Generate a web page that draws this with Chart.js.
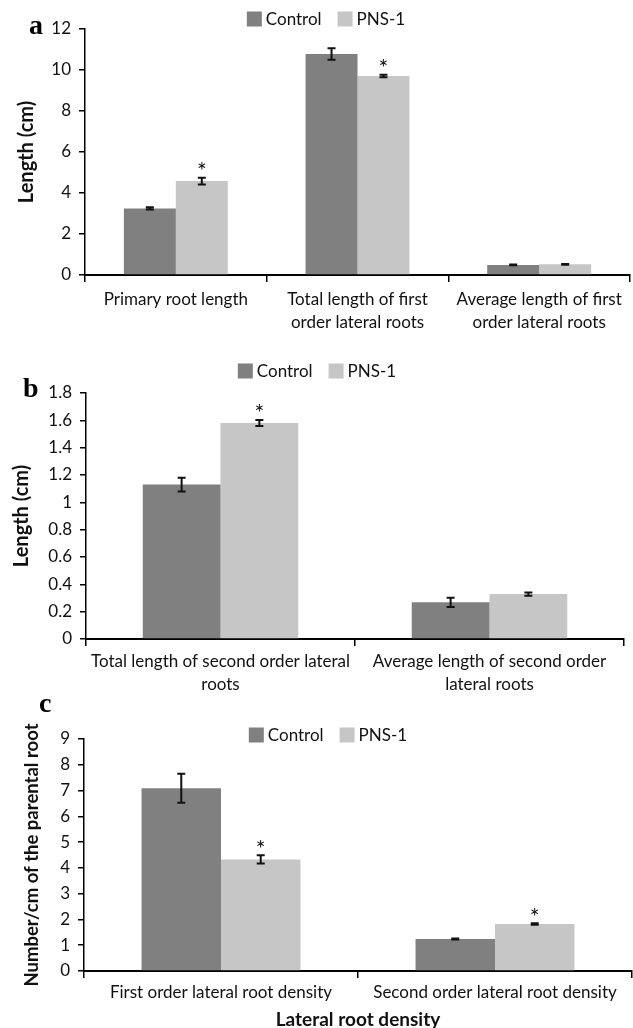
<!DOCTYPE html>
<html>
<head>
<meta charset="utf-8">
<script src="https://cdn.jsdelivr.net/npm/chart.js@4.4.1/dist/chart.umd.min.js"></script>
<style>
  body { margin: 0; background: #fff; width: 633px; height: 1028px; position: relative; overflow: hidden; }
  canvas { position: absolute; left: 0; }
</style>
</head>
<body>
<canvas id="chartA" width="633" height="340" style="top:0px"></canvas>
<canvas id="chartB" width="633" height="360" style="top:340px"></canvas>
<canvas id="chartC" width="633" height="338" style="top:690px"></canvas>
<script>
// shared series
const seriesNames = ['Control', 'PNS-1'];
const seriesColors = ['#808080', '#c5c6c5'];

// panel a
const catsA = ['Primary root length', ['Total length of first', 'order lateral roots'], ['Average length of first', 'order lateral roots']];
const controlA = [3.25, 10.78, 0.49];
const controlErrA = [0.06, 0.28, 0.02];
const pnsA = [4.58, 9.71, 0.52];
const pnsErrA = [0.17, 0.06, 0.02];
const starsA = [true, true, false];
const ticksA = [0, 2, 4, 6, 8, 10, 12];
const tickLabelsA = ['0', '2', '4', '6', '8', '10', '12'];

// panel b
const catsB = [['Total length of second order lateral', 'roots'], ['Average length of second order', 'lateral roots']];
const controlB = [1.13, 0.268];
const controlErrB = [0.05, 0.033];
const pnsB = [1.58, 0.329];
const pnsErrB = [0.022, 0.012];
const starsB = [true, false];
const ticksB = [0, 0.2, 0.4, 0.6, 0.8, 1, 1.2, 1.4, 1.6, 1.8];
const tickLabelsB = ['0', '0.2', '0.4', '0.6', '0.8', '1', '1.2', '1.4', '1.6', '1.8'];

// panel c
const catsC = ['First order lateral root density', 'Second order lateral root density'];
const controlC = [7.09, 1.24];
const controlErrC = [0.56, 0.02];
const pnsC = [4.33, 1.82];
const pnsErrC = [0.16, 0.03];
const starsC = [true, true];
const ticksC = [0, 1, 2, 3, 4, 5, 6, 7, 8, 9];
const tickLabelsC = ['0', '1', '2', '3', '4', '5', '6', '7', '8', '9'];

const FONT = 'Lato';
const INK = '#111';

// error bars, asterisks, legend and panel letter
const extras = {
  id: 'extras',
  afterDatasetsDraw(chart, args, opts) {
    const ctx = chart.ctx;
    const ys = chart.scales.y;
    ctx.save();
    chart.data.datasets.forEach((ds, i) => {
      const meta = chart.getDatasetMeta(i);
      meta.data.forEach((bar, j) => {
        const v = ds.data[j], e = ds.errors[j];
        const x = bar.x;
        const hi = ys.getPixelForValue(v + e);
        const lo = ys.getPixelForValue(v - e);
        ctx.strokeStyle = INK;
        ctx.lineWidth = 2;
        ctx.beginPath();
        ctx.moveTo(x, hi); ctx.lineTo(x, lo);
        ctx.moveTo(x - 4, hi); ctx.lineTo(x + 4, hi);
        ctx.moveTo(x - 4, lo); ctx.lineTo(x + 4, lo);
        ctx.stroke();
        if (ds.stars && ds.stars[j]) {
          ctx.fillStyle = INK;
          ctx.font = '23px ' + FONT;
          ctx.textAlign = 'center';
          ctx.textBaseline = 'middle';
          ctx.fillText('*', x, hi - 6);
        }
      });
    });

    // legend
    ctx.font = '17px ' + FONT;
    ctx.textBaseline = 'middle';
    ctx.textAlign = 'left';
    const box = 15, gapText = 4, gapItem = 16;
    const widths = chart.data.datasets.map(ds => ctx.measureText(ds.label).width);
    let total = 0;
    widths.forEach((w, i) => { total += box + gapText + w + (i ? gapItem : 0); });
    let lx = opts.legendX - total / 2;
    chart.data.datasets.forEach((ds, i) => {
      ctx.fillStyle = ds.backgroundColor;
      ctx.fillRect(lx, opts.legendY - box / 2, box, box);
      ctx.fillStyle = INK;
      ctx.fillText(ds.label, lx + box + gapText, opts.legendY + 1);
      lx += box + gapText + widths[i] + gapItem;
    });

    // panel letter
    ctx.font = 'bold 28px "Liberation Serif"';
    ctx.textBaseline = 'alphabetic';
    ctx.fillStyle = '#000';
    ctx.fillText(opts.letter, opts.letterX, opts.letterY);
    ctx.restore();
  }
};

function makePanel(id, cfg) {
  return new Chart(document.getElementById(id), {
    type: 'bar',
    data: {
      labels: cfg.labels,
      datasets: [
        { label: seriesNames[0], data: cfg.control, errors: cfg.controlErr, stars: null,
          backgroundColor: seriesColors[0], categoryPercentage: cfg.catPct, barPercentage: 1 },
        { label: seriesNames[1], data: cfg.pns, errors: cfg.pnsErr, stars: cfg.stars,
          backgroundColor: seriesColors[1], categoryPercentage: cfg.catPct, barPercentage: 1 }
      ]
    },
    options: {
      responsive: false,
      animation: false,
      layout: { padding: { top: cfg.top, right: cfg.right, bottom: 0, left: 0 } },
      plugins: {
        legend: { display: false },
        tooltip: { enabled: false },
        extras: { legendX: cfg.legendX, legendY: cfg.legendY, letter: cfg.letter, letterX: cfg.letterX, letterY: cfg.letterY }
      },
      scales: {
        x: {
          grid: { offset: true, drawOnChartArea: false, tickLength: 7, color: '#000', lineWidth: 1.5 },
          border: { color: '#000', width: 2 },
          ticks: { color: INK, font: { family: FONT, size: 17, lineHeight: 1.35 }, padding: cfg.xPad, maxRotation: 0, autoSkip: false },
          title: cfg.xTitle
            ? { display: true, text: cfg.xTitle, color: INK, font: { family: FONT, size: 19, weight: 'bold', lineHeight: 0.85 }, padding: { top: 0, bottom: 0 } }
            : { display: false },
          afterFit: s => { s.height = cfg.xh; }
        },
        y: {
          min: 0,
          max: cfg.ticks[cfg.ticks.length - 1],
          afterBuildTicks: s => { s.ticks = cfg.ticks.map(v => ({ value: v })); },
          grid: { drawOnChartArea: false, tickLength: 6, color: '#000', lineWidth: 1.5 },
          border: { color: '#000', width: 1.5 },
          ticks: { color: INK, font: { family: FONT, size: 17 }, padding: 8, callback: (v, i) => cfg.tickLabels[i] },
          title: { display: true, text: cfg.yTitle, color: INK, font: { family: FONT, size: cfg.yTitleSize, weight: 'bold' }, padding: { top: cfg.yTitlePad, bottom: 0 } },
          afterFit: s => { s.width = cfg.left; }
        }
      }
    },
    plugins: [extras]
  });
}

makePanel('chartA', {
  labels: catsA, control: controlA, controlErr: controlErrA, pns: pnsA, pnsErr: pnsErrA, stars: starsA,
  ticks: ticksA, tickLabels: tickLabelsA, catPct: 0.572, xPad: 6,
  top: 29, right: 3, left: 85, xh: 65, yTitle: 'Length (cm)', yTitleSize: 20, yTitlePad: 15,
  legendX: 326, legendY: 19, letter: 'a', letterX: 29, letterY: 34
});

makePanel('chartB', {
  labels: catsB, control: controlB, controlErr: controlErrB, pns: pnsB, pnsErr: pnsErrB, stars: starsB,
  ticks: ticksB, tickLabels: tickLabelsB, catPct: 0.578, xPad: 4,
  top: 53, right: 9, left: 86, xh: 61, yTitle: 'Length (cm)', yTitleSize: 20, yTitlePad: 10,
  legendX: 317, legendY: 31, letter: 'b', letterX: 23, letterY: 57
});

makePanel('chartC', {
  labels: catsC, control: controlC, controlErr: controlErrC, pns: pnsC, pnsErr: pnsErrC, stars: starsC,
  ticks: ticksC, tickLabels: tickLabelsC, catPct: 0.58, xPad: 3,
  top: 49, right: 1, left: 84, xh: 57, yTitle: 'Number/cm of the parental root', yTitleSize: 18.5, yTitlePad: 21,
  xTitle: 'Lateral root density',
  legendX: 328, legendY: 45, letter: 'c', letterX: 39, letterY: 22
});
</script>
</body>
</html>
